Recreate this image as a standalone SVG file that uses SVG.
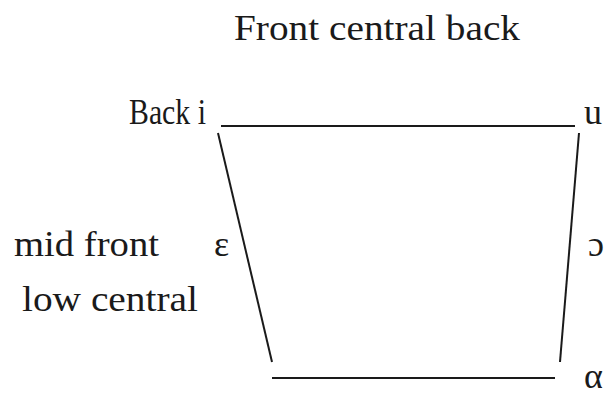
<svg xmlns="http://www.w3.org/2000/svg" width="608" height="396" viewBox="0 0 608 396">
<style>
text{font-family:"Liberation Serif","Times New Roman",serif;font-size:36px;fill:#1a1a1a}
.ln{stroke:#1a1a1a;stroke-width:2;fill:none}
</style>
<rect width="608" height="396" fill="#fff"/>
<g id="title"><text x="234" y="40" textLength="286" lengthAdjust="spacingAndGlyphs">Front central back</text></g>
<g id="labels">
<text x="129" y="124" textLength="77" lengthAdjust="spacingAndGlyphs">Back i</text>
<text x="584" y="124">u</text>
<text x="14" y="256" textLength="145" lengthAdjust="spacingAndGlyphs">mid front</text>
<text x="214" y="256">ε</text>
<text x="588" y="256">ɔ</text>
<text x="22" y="311" textLength="176" lengthAdjust="spacingAndGlyphs">low central</text>
<text x="584" y="388">α</text>
</g>
<g id="connectors">
<line class="ln" x1="221" y1="126" x2="575" y2="126"/>
<line class="ln" x1="218" y1="133" x2="272" y2="362"/>
<line class="ln" x1="579" y1="133" x2="560" y2="362"/>
<line class="ln" x1="272" y1="378" x2="555" y2="378"/>
</g>
</svg>
